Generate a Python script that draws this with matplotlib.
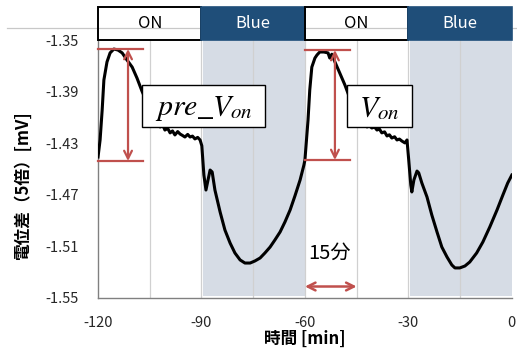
import numpy as np
import matplotlib
matplotlib.use("Agg")
import matplotlib.pyplot as plt
from matplotlib.patches import Rectangle
from matplotlib.lines import Line2D

plt.rcParams['font.family'] = ['Noto Sans CJK JP', 'DejaVu Sans']
plt.rcParams['mathtext.fontset'] = 'stix'

# time [min] and potential difference [mV]
time_min = [-120, -119.4, -118.8, -118.3, -117.4, -116.5, -115.4, -114.2, -113.0, -111.6,
            -110.1, -108.7, -107.2, -105.5, -103.5, -102.0, -101.2, -100.6, -99.8, -99.1,
            -98.4, -97.7, -96.9, -96.2, -95.5, -94.8, -94.0, -93.3, -92.6, -91.9,
            -91.1, -90.4, -89.9, -89.3, -88.7, -88.1, -87.5, -86.9, -86.1, -84.6,
            -83.2, -81.7, -80.3, -78.8, -77.4, -75.9, -74.5, -73.0, -71.6, -70.1,
            -68.7, -67.2, -65.8, -64.3, -62.9, -61.4, -60.3,
            -60.0, -59.1, -58.6, -58.0, -57.1, -56.5, -55.7, -54.5, -53.3, -52.8,
            -52.2, -51.3, -49.9, -48.4, -47.0, -45.2, -43.5, -42.0, -41.3, -40.6,
            -39.8, -39.1, -38.4, -37.7, -36.9, -36.2, -35.5, -34.8, -34.0, -33.3,
            -32.6, -31.9, -31.0, -30.4, -29.9, -29.3, -29.0, -28.4, -27.5, -27.0,
            -26.1, -24.6, -23.2, -21.7, -20.3, -18.8, -17.4, -16.5, -15.1, -13.6,
            -12.2, -10.2, -8.4, -6.4, -4.3, -2.6, -1.2, 0]
potential_mv = [-1.4407, -1.4275, -1.4043, -1.381, -1.367, -1.360, -1.357, -1.3578, -1.360, -1.3655,
                -1.371, -1.3795, -1.390, -1.400, -1.4105, -1.4174, -1.4160, -1.4198, -1.4185, -1.422,
                -1.4205, -1.4236, -1.4210, -1.4229, -1.4240, -1.4252, -1.4232, -1.4252, -1.4245, -1.4267,
                -1.4255, -1.4275, -1.432, -1.4547, -1.4663, -1.4585, -1.4508, -1.4523, -1.4663, -1.4833,
                -1.4973, -1.5074, -1.5151, -1.5205, -1.5229, -1.5229, -1.5213, -1.519, -1.5151, -1.5105,
                -1.505, -1.4988, -1.4911, -1.4818, -1.4709, -1.4585, -1.447,
                -1.443, -1.412, -1.3888, -1.371, -1.364, -1.3616, -1.3593, -1.3593, -1.360, -1.364,
                -1.361, -1.367, -1.3756, -1.3849, -1.395, -1.4043, -1.412, -1.4174, -1.4165, -1.4182,
                -1.4175, -1.4198, -1.4190, -1.422, -1.4212, -1.4244, -1.4235, -1.426, -1.4250, -1.4275,
                -1.4268, -1.4283, -1.4298, -1.4275, -1.443, -1.4624, -1.4678, -1.4585, -1.4516, -1.453,
                -1.4608, -1.4717, -1.4857, -1.4988, -1.5105, -1.5182, -1.5244, -1.5267, -1.5267, -1.5252,
                -1.5221, -1.5151, -1.5066, -1.495, -1.4818, -1.4702, -1.4609, -1.4547]

phases = [(-120, -90, 'ON'), (-90, -60, 'Blue'), (-60, -30, 'ON'), (-30, 0, 'Blue')]
x_ticks = [-120, -90, -60, -30, 0]
y_ticks = [-1.35, -1.39, -1.43, -1.47, -1.51, -1.55]

# peak and baseline levels marked in each ON period, with their labels
mark_start = [-120, -60]
mark_top = [-1.357, -1.3578]
mark_bottom = [-1.4438, -1.443]
mark_labels = [r'$pre\_V_{on}$', r'$V_{on}$']

red = '#C0504D'
navy = '#1F4E79'
shade = '#D6DCE5'

fig = plt.figure(figsize=(5.17, 3.5), dpi=100)
ax = fig.add_axes([0.1896, 0.1486, 0.8004, 0.7371])
ax.set_xlim(-120, 0)
ax.set_ylim(-1.55, -1.35)

for x in range(-105, 0, 15):
    ax.axvline(x, color='#D0D0D0', lw=0.9, zorder=1)

for start, end, name in phases:
    if name == 'Blue':
        ax.axvspan(start + 0.5, end, ymin=0.008, ymax=1, color=shade, lw=0, zorder=0.5)
        box = Rectangle((start, 1.0), end - start, 0.128, transform=ax.get_xaxis_transform(),
                        facecolor=navy, edgecolor=navy, lw=1.2, clip_on=False, zorder=5)
        color = 'white'
    else:
        box = Rectangle((start, 1.0), end - start, 0.128, transform=ax.get_xaxis_transform(),
                        facecolor='none', edgecolor='black', lw=1.4, clip_on=False, zorder=5)
        color = 'black'
    ax.add_patch(box)
    ax.text((start + end) / 2, 1.064, name, transform=ax.get_xaxis_transform(),
            ha='center', va='center', fontsize=12, color=color, zorder=6)

# thin line across the top
fig.add_artist(Line2D([0.014, 1.0], [0.92, 0.92], color='#C8C8C8', lw=0.9, zorder=0))

ax.plot(time_min, potential_mv, color='black', lw=2.2, zorder=3)

label_boxes = [(-107.2, -71.6), (-47.8, -29.0)]
for x0, top, bottom, label, (bx0, bx1) in zip(mark_start, mark_top, mark_bottom,
                                               mark_labels, label_boxes):
    for yv in (top, bottom):
        ax.plot([x0, x0 + 13], [yv, yv], color=red, lw=1.6, zorder=4, clip_on=False)
    xa = x0 + 8.7
    ax.annotate('', xy=(xa, bottom), xytext=(xa, top),
                arrowprops=dict(arrowstyle='<->', color=red, lw=1.6, mutation_scale=14,
                                shrinkA=0, shrinkB=0), zorder=4)
    ax.add_patch(Rectangle((bx0, -1.4174), bx1 - bx0, 0.0325, facecolor='white',
                           edgecolor='black', lw=1.0, zorder=7))
    ax.text((bx0 + bx1) / 2, -1.4025, label, fontsize=21.5,
            ha='center', va='center', zorder=8)

ax.annotate('', xy=(-45, -1.5411), xytext=(-60, -1.5411),
            arrowprops=dict(arrowstyle='<->', color=red, lw=1.8, mutation_scale=14,
                            shrinkA=0, shrinkB=0), zorder=4)
ax.text(-53.0, -1.5155, '15分', fontsize=14.5, ha='center', va='center', zorder=4)

ax.set_xticks(x_ticks)
ax.set_yticks(y_ticks)
ax.set_xticklabels([str(v) for v in x_ticks])
ax.set_yticklabels([f'{v:.2f}' for v in y_ticks])
ax.tick_params(axis='both', length=0, labelsize=10.5, colors='#262626')
ax.tick_params(axis='x', pad=13)
ax.tick_params(axis='y', pad=14)

for side in ('top', 'right'):
    ax.spines[side].set_visible(False)
for side in ('left', 'bottom'):
    ax.spines[side].set_color('#808080')
    ax.spines[side].set_linewidth(1.0)
    ax.spines[side].set_zorder(2)

fig.text(0.59, 0.032, '時間 [min]', fontsize=12, fontweight='bold', ha='center', va='center')
fig.text(0.045, 0.47, '電位差（5倍）[mV]', fontsize=12, fontweight='bold',
         rotation=90, ha='center', va='center')

fig.savefig('out.png', dpi=100)
